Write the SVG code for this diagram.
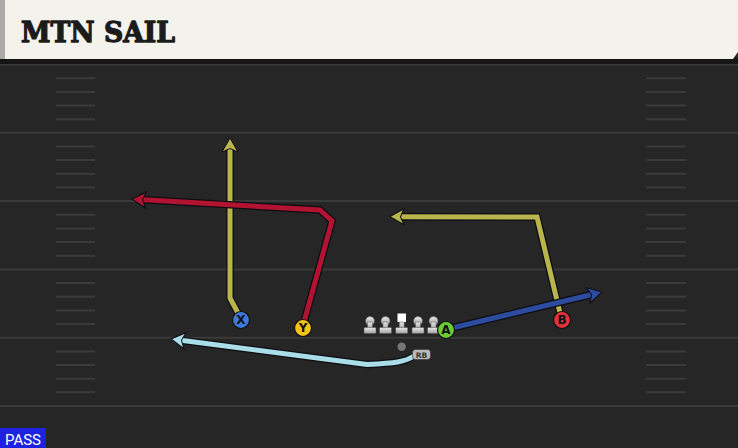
<svg xmlns="http://www.w3.org/2000/svg" width="738" height="448" viewBox="0 0 738 448">
<defs>
<style>
.yl{stroke:#3a3a3a;stroke-width:2;fill:none}
.hm{stroke:#3b3b3b;stroke-width:2;fill:none}
.under{fill:none;stroke:#0d0d14;stroke-width:7.5;stroke-linejoin:miter;stroke-linecap:butt}
.rt{fill:none;stroke-width:5;stroke-linejoin:miter;stroke-linecap:butt}
.lbl{font-family:"DejaVu Sans","Liberation Sans",sans-serif;font-weight:bold;font-size:12px;fill:#111;text-anchor:middle}
.ol{fill:url(#og);stroke:#555;stroke-width:0.5}
</style>
<linearGradient id="og" x1="0" y1="0" x2="0" y2="1"><stop offset="0" stop-color="#e8e8e8"/><stop offset="1" stop-color="#a0a0a0"/></linearGradient>
<marker id="ay" markerUnits="userSpaceOnUse" markerWidth="20" markerHeight="20" refX="0" refY="0" viewBox="-10 -10 20 20" orient="auto" overflow="visible"><path d="M8,0 L-6,-8 L-2.5,0 L-6,8 Z" fill="#b9b54c" stroke="#0d0d14" stroke-width="1"/></marker>
<marker id="ar" markerUnits="userSpaceOnUse" markerWidth="20" markerHeight="20" refX="0" refY="0" viewBox="-10 -10 20 20" orient="auto" overflow="visible"><path d="M8,0 L-6,-8 L-2.5,0 L-6,8 Z" fill="#b11330" stroke="#0d0d14" stroke-width="1"/></marker>
<marker id="ab" markerUnits="userSpaceOnUse" markerWidth="20" markerHeight="20" refX="0" refY="0" viewBox="-10 -10 20 20" orient="auto" overflow="visible"><path d="M8,0 L-6,-8 L-2.5,0 L-6,8 Z" fill="#2d4c9e" stroke="#0d0d14" stroke-width="1"/></marker>
<marker id="al" markerUnits="userSpaceOnUse" markerWidth="20" markerHeight="20" refX="0" refY="0" viewBox="-10 -10 20 20" orient="auto" overflow="visible"><path d="M8,0 L-6,-8 L-2.5,0 L-6,8 Z" fill="#a9dde8" stroke="#0d0d14" stroke-width="1"/></marker>
</defs>
<rect width="738" height="448" fill="#262626"/>
<g id="field">
<line class="yl" x1="0" y1="64.5" x2="738" y2="64.5"/>
<line class="yl" x1="0" y1="132.8" x2="738" y2="132.8"/>
<line class="yl" x1="0" y1="201" x2="738" y2="201"/>
<line class="yl" x1="0" y1="269.4" x2="738" y2="269.4"/>
<line class="yl" x1="0" y1="337.7" x2="738" y2="337.7"/>
<line class="yl" x1="0" y1="406" x2="738" y2="406"/>
<path class="hm" d="M56,78.2H95M56,91.9H95M56,105.5H95M56,119.2H95M56,146.5H95M56,160.1H95M56,173.8H95M56,187.4H95M56,214.7H95M56,228.4H95M56,242H95M56,255.7H95M56,283.1H95M56,296.7H95M56,310.4H95M56,324H95M56,351.4H95M56,365H95M56,378.7H95M56,392.3H95"/>
<path class="hm" d="M646,78.2H686M646,91.9H686M646,105.5H686M646,119.2H686M646,146.5H686M646,160.1H686M646,173.8H686M646,187.4H686M646,214.7H686M646,228.4H686M646,242H686M646,255.7H686M646,283.1H686M646,296.7H686M646,310.4H686M646,324H686M646,351.4H686M646,365H686M646,378.7H686M646,392.3H686"/>
</g>
<g id="header">
<rect x="0" y="58" width="738" height="6" fill="#161616"/>
<polygon points="0,0 738,0 738,52 733,59 0,59" fill="#f4f2ec"/>
<rect x="0" y="0" width="5" height="59" fill="#aaaaaa"/>
<text x="21" y="42" font-family="DejaVu Serif, Liberation Serif, serif" font-weight="bold" font-size="28" fill="#1b1b1b" stroke="#1b1b1b" stroke-width="1.3" stroke-linejoin="round" textLength="154" lengthAdjust="spacingAndGlyphs">MTN SAIL</text>
</g>
<g id="connectors">
<path class="under" d="M238,313 L230,298 L230,146"/>
<path class="rt" stroke="#b9b54c" d="M238,313 L230,298 L230,146" marker-end="url(#ay)"/>
<path class="under" d="M304,322 L332,221 L320,210 L140,199.6"/>
<path class="rt" stroke="#b11330" d="M304,322 L332,221 L320,210 L140,199.6" marker-end="url(#ar)"/>
<path class="under" d="M560,313 L537,217 L398,216.7"/>
<path class="rt" stroke="#b9b54c" d="M560,313 L537,217 L398,216.7" marker-end="url(#ay)"/>
<path class="under" d="M452,328 L594,294"/>
<path class="rt" stroke="#2d4c9e" d="M452,328 L594,294" marker-end="url(#ab)"/>
<path class="under" d="M414,356 C405,362 395,363 367,364.5 L179,340"/>
<path class="rt" stroke="#a9dde8" d="M414,356 C405,362 395,363 367,364.5 L179,340" marker-end="url(#al)"/>
</g>
<g id="oline">
<g><circle class="ol" cx="370" cy="321" r="4.5"/><rect class="ol" x="367.5" y="322" width="5" height="7"/><rect class="ol" x="364" y="327.5" width="12" height="6" rx="1"/></g>
<g><circle class="ol" cx="385.5" cy="321" r="4.5"/><rect class="ol" x="383" y="322" width="5" height="7"/><rect class="ol" x="379.5" y="327.5" width="12" height="6" rx="1"/></g>
<g><rect x="397.5" y="313.5" width="8.5" height="8.5" fill="#ffffff"/><rect class="ol" x="399.2" y="322" width="5" height="7"/><rect class="ol" x="395.7" y="327.5" width="12" height="6" rx="1"/></g>
<g><circle class="ol" cx="418" cy="321" r="4.5"/><rect class="ol" x="415.5" y="322" width="5" height="7"/><rect class="ol" x="412" y="327.5" width="12" height="6" rx="1"/></g>
<g><circle class="ol" cx="433.5" cy="321" r="4.5"/><rect class="ol" x="431" y="322" width="5" height="7"/><rect class="ol" x="427.5" y="327.5" width="12" height="6" rx="1"/></g>
</g>
<g id="qb"><circle cx="401.7" cy="346.7" r="4.2" fill="#777"/></g>
<g id="rb"><rect x="412.5" y="349.5" width="18" height="10" rx="3" fill="#b9b9b9" stroke="#333" stroke-width="0.6"/><text x="421.5" y="357.8" font-family="DejaVu Sans, sans-serif" font-weight="bold" font-size="7.5" fill="#333" text-anchor="middle">RB</text></g>
<g id="X"><circle cx="241" cy="320" r="8.5" fill="#3f78d8" stroke="#111" stroke-width="1.2"/><text class="lbl" x="241" y="324.3">X</text></g>
<g id="Y"><circle cx="303" cy="328" r="8.5" fill="#f2c318" stroke="#111" stroke-width="1.2"/><text class="lbl" x="303" y="332.3">Y</text></g>
<g id="A"><circle cx="446" cy="330" r="8.5" fill="#6acb34" stroke="#111" stroke-width="1.2"/><text class="lbl" x="446" y="334.3">A</text></g>
<g id="B"><circle cx="562" cy="320" r="8.5" fill="#e3323c" stroke="#111" stroke-width="1.2"/><text class="lbl" x="562" y="324.3">B</text></g>
<g id="pass"><rect x="0" y="428" width="46" height="20" fill="#1d22e0"/><text x="23" y="444.5" font-family="Roboto, Liberation Sans, sans-serif" font-size="15" fill="#ffffff" text-anchor="middle">PASS</text></g>
</svg>
